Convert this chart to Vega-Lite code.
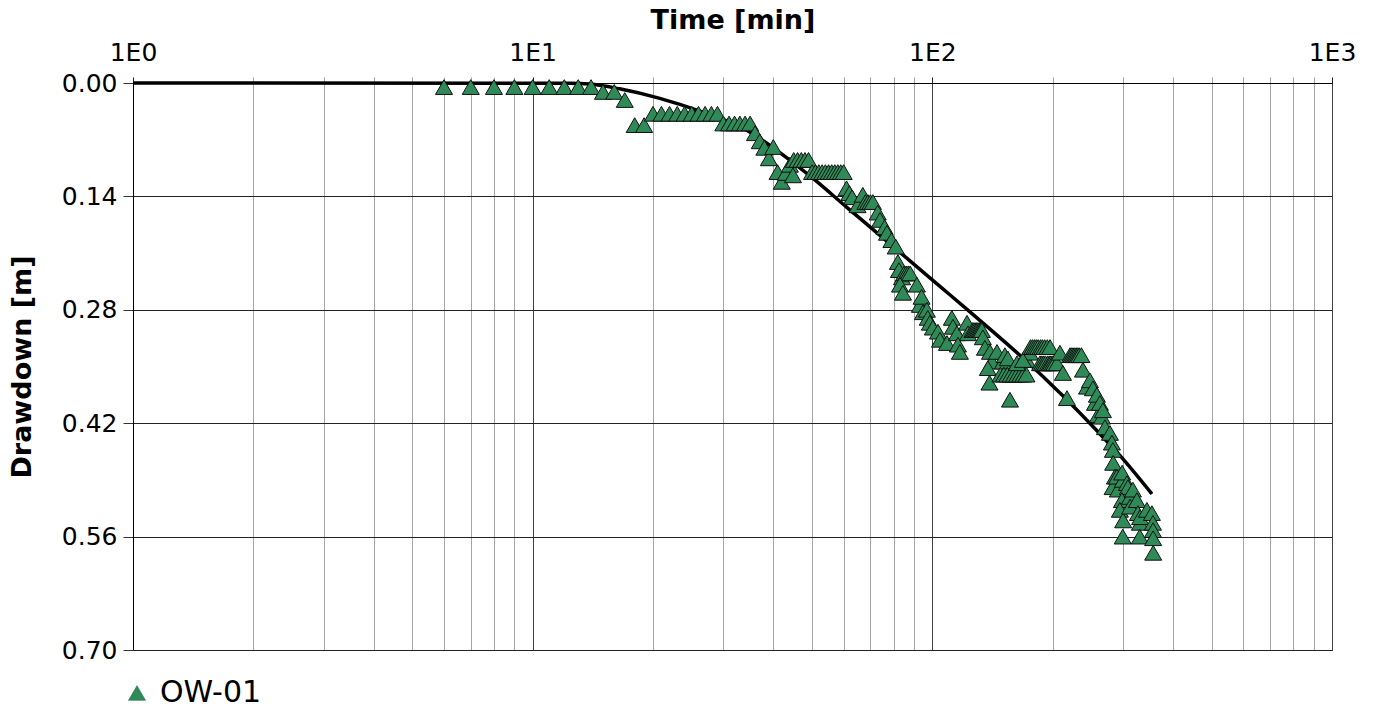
{
  "$schema": "https://vega.github.io/schema/vega-lite/v6.json",
  "width": 1199,
  "height": 567,
  "autosize": {"type": "none"},
  "padding": {"left": 133, "top": 83, "right": 42, "bottom": 59},
  "background": "white",
  "config": {
    "view": {"stroke": "black", "strokeWidth": 1},
    "font": "DejaVu Sans"
  },
  "datasets": {
    "model": [
      {"t": 1, "s": 0}, {"t": 12.4, "s": 0.0002}, {"t": 13.9, "s": 0.0012}, {"t": 16.5, "s": 0.0072},
      {"t": 20.8, "s": 0.019}, {"t": 26.2, "s": 0.0348}, {"t": 34.4, "s": 0.0585},
      {"t": 44.0, "s": 0.0951}, {"t": 50.3, "s": 0.1178}, {"t": 61.1, "s": 0.1535}, {"t": 71.0, "s": 0.1807},
      {"t": 83.0, "s": 0.2091}, {"t": 104.5, "s": 0.2511}, {"t": 124.2, "s": 0.2826}, {"t": 141.8, "s": 0.3070},
      {"t": 168.6, "s": 0.3396}, {"t": 212.4, "s": 0.3865}, {"t": 258.2, "s": 0.4294}, {"t": 294.6, "s": 0.4598},
      {"t": 354.3, "s": 0.5074}
    ],
    "obs": [
      {"t": 6, "s": 0.005}, {"t": 7, "s": 0.005}, {"t": 8, "s": 0.005}, {"t": 9, "s": 0.005}, {"t": 10, "s": 0.005},
      {"t": 11, "s": 0.005}, {"t": 12, "s": 0.005}, {"t": 13, "s": 0.005}, {"t": 14, "s": 0.005},
      {"t": 15, "s": 0.011}, {"t": 16, "s": 0.011}, {"t": 17, "s": 0.021}, {"t": 18, "s": 0.052}, {"t": 19, "s": 0.052},
      {"t": 20, "s": 0.038}, {"t": 21, "s": 0.038}, {"t": 22, "s": 0.038}, {"t": 23, "s": 0.038}, {"t": 24, "s": 0.038},
      {"t": 25, "s": 0.038}, {"t": 26, "s": 0.038}, {"t": 27, "s": 0.038}, {"t": 28, "s": 0.038}, {"t": 29, "s": 0.038},
      {"t": 30, "s": 0.050}, {"t": 31, "s": 0.050}, {"t": 32, "s": 0.050}, {"t": 33, "s": 0.050}, {"t": 34, "s": 0.050}, {"t": 35, "s": 0.050},
      {"t": 36, "s": 0.062}, {"t": 37, "s": 0.072}, {"t": 38, "s": 0.080}, {"t": 39, "s": 0.093}, {"t": 40, "s": 0.079},
      {"t": 41, "s": 0.110}, {"t": 42, "s": 0.122}, {"t": 43, "s": 0.111}, {"t": 44, "s": 0.101}, {"t": 44.8, "s": 0.114},
      {"t": 45, "s": 0.095}, {"t": 46, "s": 0.095}, {"t": 47, "s": 0.095}, {"t": 48, "s": 0.095}, {"t": 49, "s": 0.095},
      {"t": 50, "s": 0.110}, {"t": 51, "s": 0.110}, {"t": 52, "s": 0.110}, {"t": 53, "s": 0.110}, {"t": 54, "s": 0.110},
      {"t": 55, "s": 0.110}, {"t": 56, "s": 0.110}, {"t": 57, "s": 0.110}, {"t": 58, "s": 0.110}, {"t": 59, "s": 0.110}, {"t": 60, "s": 0.110},
      {"t": 61, "s": 0.130}, {"t": 62, "s": 0.136}, {"t": 63, "s": 0.141}, {"t": 65, "s": 0.151}, {"t": 67, "s": 0.138},
      {"t": 68, "s": 0.147}, {"t": 69, "s": 0.147}, {"t": 70, "s": 0.147}, {"t": 71, "s": 0.147},
      {"t": 73, "s": 0.160}, {"t": 74, "s": 0.169}, {"t": 76, "s": 0.178}, {"t": 77, "s": 0.185}, {"t": 79, "s": 0.194},
      {"t": 81, "s": 0.202}, {"t": 82, "s": 0.221}, {"t": 82.5, "s": 0.231}, {"t": 84, "s": 0.240},
      {"t": 85, "s": 0.235}, {"t": 86, "s": 0.235}, {"t": 87, "s": 0.235}, {"t": 88, "s": 0.235},
      {"t": 83, "s": 0.249}, {"t": 84.4, "s": 0.259}, {"t": 91.5, "s": 0.249},
      {"t": 93.1, "s": 0.274}, {"t": 94.7, "s": 0.283}, {"t": 94, "s": 0.264}, {"t": 96.9, "s": 0.280}, {"t": 97.4, "s": 0.290},
      {"t": 98.6, "s": 0.296}, {"t": 100.3, "s": 0.302}, {"t": 103.3, "s": 0.307}, {"t": 104.5, "s": 0.317}, {"t": 108.8, "s": 0.321},
      {"t": 111.9, "s": 0.290}, {"t": 112.6, "s": 0.301}, {"t": 115.2, "s": 0.309}, {"t": 115.9, "s": 0.323}, {"t": 117.2, "s": 0.332},
      {"t": 122.1, "s": 0.296}, {"t": 122.8, "s": 0.309},
      {"t": 126, "s": 0.305}, {"t": 127, "s": 0.305}, {"t": 128, "s": 0.305}, {"t": 129, "s": 0.305}, {"t": 130, "s": 0.305},
      {"t": 131, "s": 0.305}, {"t": 132, "s": 0.305}, {"t": 133, "s": 0.305},
      {"t": 133.8, "s": 0.314}, {"t": 135.4, "s": 0.327}, {"t": 139.4, "s": 0.332}, {"t": 141, "s": 0.344}, {"t": 145.1, "s": 0.332},
      {"t": 137.7, "s": 0.352}, {"t": 139, "s": 0.370}, {"t": 150.2, "s": 0.344}, {"t": 151.9, "s": 0.336}, {"t": 154.5, "s": 0.340},
      {"t": 148, "s": 0.360}, {"t": 151, "s": 0.360}, {"t": 154, "s": 0.360}, {"t": 157, "s": 0.360}, {"t": 160, "s": 0.360},
      {"t": 163, "s": 0.360}, {"t": 166, "s": 0.360}, {"t": 169, "s": 0.360}, {"t": 172, "s": 0.360},
      {"t": 156.4, "s": 0.391}, {"t": 172.5, "s": 0.342}, {"t": 175.5, "s": 0.333}, {"t": 162.8, "s": 0.346}, {"t": 168.5, "s": 0.342},
      {"t": 176, "s": 0.326}, {"t": 178, "s": 0.326}, {"t": 180, "s": 0.326}, {"t": 182, "s": 0.326}, {"t": 184, "s": 0.326}, {"t": 186.5, "s": 0.326},
      {"t": 188.5, "s": 0.326}, {"t": 191, "s": 0.326}, {"t": 194, "s": 0.326}, {"t": 197, "s": 0.326},
      {"t": 186, "s": 0.346}, {"t": 188, "s": 0.346}, {"t": 190, "s": 0.346}, {"t": 192, "s": 0.346}, {"t": 194.5, "s": 0.346}, {"t": 196.5, "s": 0.346},
      {"t": 198, "s": 0.346}, {"t": 200, "s": 0.346}, {"t": 202, "s": 0.346}, {"t": 205, "s": 0.346},
      {"t": 208.6, "s": 0.333}, {"t": 212.2, "s": 0.358}, {"t": 217.2, "s": 0.389},
      {"t": 221, "s": 0.336}, {"t": 223, "s": 0.336}, {"t": 225, "s": 0.336}, {"t": 227, "s": 0.336}, {"t": 229, "s": 0.336},
      {"t": 231, "s": 0.336}, {"t": 233, "s": 0.336}, {"t": 236, "s": 0.336},
      {"t": 238.2, "s": 0.354}, {"t": 243.8, "s": 0.375}, {"t": 247.9, "s": 0.367}, {"t": 252.3, "s": 0.377}, {"t": 255.2, "s": 0.395},
      {"t": 258.1, "s": 0.385}, {"t": 259.6, "s": 0.410}, {"t": 262.6, "s": 0.395}, {"t": 265.7, "s": 0.412}, {"t": 267.2, "s": 0.404},
      {"t": 270.3, "s": 0.425}, {"t": 278.2, "s": 0.432}, {"t": 281.4, "s": 0.444}, {"t": 283, "s": 0.453}, {"t": 283.5, "s": 0.469},
      {"t": 286.3, "s": 0.486}, {"t": 282.5, "s": 0.499}, {"t": 289.6, "s": 0.486}, {"t": 291.3, "s": 0.502}, {"t": 299.8, "s": 0.490},
      {"t": 298.5, "s": 0.481}, {"t": 306.8, "s": 0.494}, {"t": 308.6, "s": 0.499}, {"t": 298.1, "s": 0.515}, {"t": 312.1, "s": 0.511},
      {"t": 317.6, "s": 0.502}, {"t": 294.6, "s": 0.527}, {"t": 300.2, "s": 0.540}, {"t": 312.5, "s": 0.523}, {"t": 325, "s": 0.515},
      {"t": 326.9, "s": 0.531}, {"t": 330.7, "s": 0.543}, {"t": 331, "s": 0.536}, {"t": 344.3, "s": 0.527}, {"t": 354.3, "s": 0.531},
      {"t": 356.4, "s": 0.543}, {"t": 356.6, "s": 0.552}, {"t": 299.5, "s": 0.560}, {"t": 330.4, "s": 0.560}, {"t": 356.8, "s": 0.562},
      {"t": 357, "s": 0.580}
    ]
  },
  "encoding": {
    "x": {
      "field": "t",
      "type": "quantitative",
      "scale": {"type": "log", "domain": [1, 1000], "nice": false},
      "axis": {
        "orient": "top",
        "title": "Time [min]",
        "values": [1, 2, 3, 4, 5, 6, 7, 8, 9, 10, 20, 30, 40, 50, 60, 70, 80, 90, 100, 200, 300, 400, 500, 600, 700, 800, 900, 1000],
        "labelExpr": "indexof([1,10,100,1000], datum.value) >= 0 ? '1E' + round(log(datum.value)/LN10) : ''",
        "labelFlush": false,
        "labelOverlap": false,
        "labelFontSize": 25,
        "labelColor": "black",
        "labelPadding": 12,
        "titleFontSize": 27,
        "titleFontWeight": "bold",
        "titleColor": "black",
        "titlePadding": 6,
        "grid": true,
        "gridColor": {"condition": {"test": "indexof([1,10,100,1000], datum.value) >= 0", "value": "#404040"}, "value": "#a4a4a4"},
        "gridWidth": 1,
        "gridOpacity": 1,
        "tickColor": {"condition": {"test": "indexof([1,10,100,1000], datum.value) >= 0", "value": "#222222"}, "value": "#a4a4a4"},
        "tickSize": 6,
        "domainColor": "black"
      }
    },
    "y": {
      "field": "s",
      "type": "quantitative",
      "scale": {"domain": [0, 0.7], "reverse": true, "nice": false, "zero": false},
      "axis": {
        "title": "Drawdown [m]",
        "values": [0, 0.14, 0.28, 0.42, 0.56, 0.7],
        "format": ".2f",
        "labelFontSize": 25,
        "labelColor": "black",
        "labelPadding": 6,
        "tickSize": 10,
        "tickColor": "#333333",
        "titleFontSize": 27,
        "titleFontWeight": "bold",
        "titleColor": "black",
        "titlePadding": 25,
        "grid": true,
        "gridColor": "#222222",
        "gridOpacity": 1,
        "domainColor": "black"
      }
    }
  },
  "layer": [
    {
      "data": {"name": "model"},
      "mark": {"type": "line", "color": "black", "strokeWidth": 3.5, "interpolate": "monotone"}
    },
    {
      "data": {"name": "obs"},
      "mark": {"type": "point", "shape": "triangle-up", "filled": true, "size": 290, "stroke": "#111111", "strokeWidth": 1, "opacity": 1},
      "encoding": {
        "color": {
          "datum": "OW-01",
          "type": "nominal",
          "scale": {"range": ["#2e8b57"]},
          "legend": {
            "orient": "none",
            "legendX": -11,
            "legendY": 595,
            "title": null,
            "padding": 0,
            "labelFontSize": 30,
            "labelColor": "black",
            "labelOffset": 8,
            "symbolType": "triangle-up",
            "symbolSize": 290,
            "symbolStrokeColor": "#1f5f3b",
            "symbolStrokeWidth": 0.5
          }
        }
      }
    }
  ]
}
